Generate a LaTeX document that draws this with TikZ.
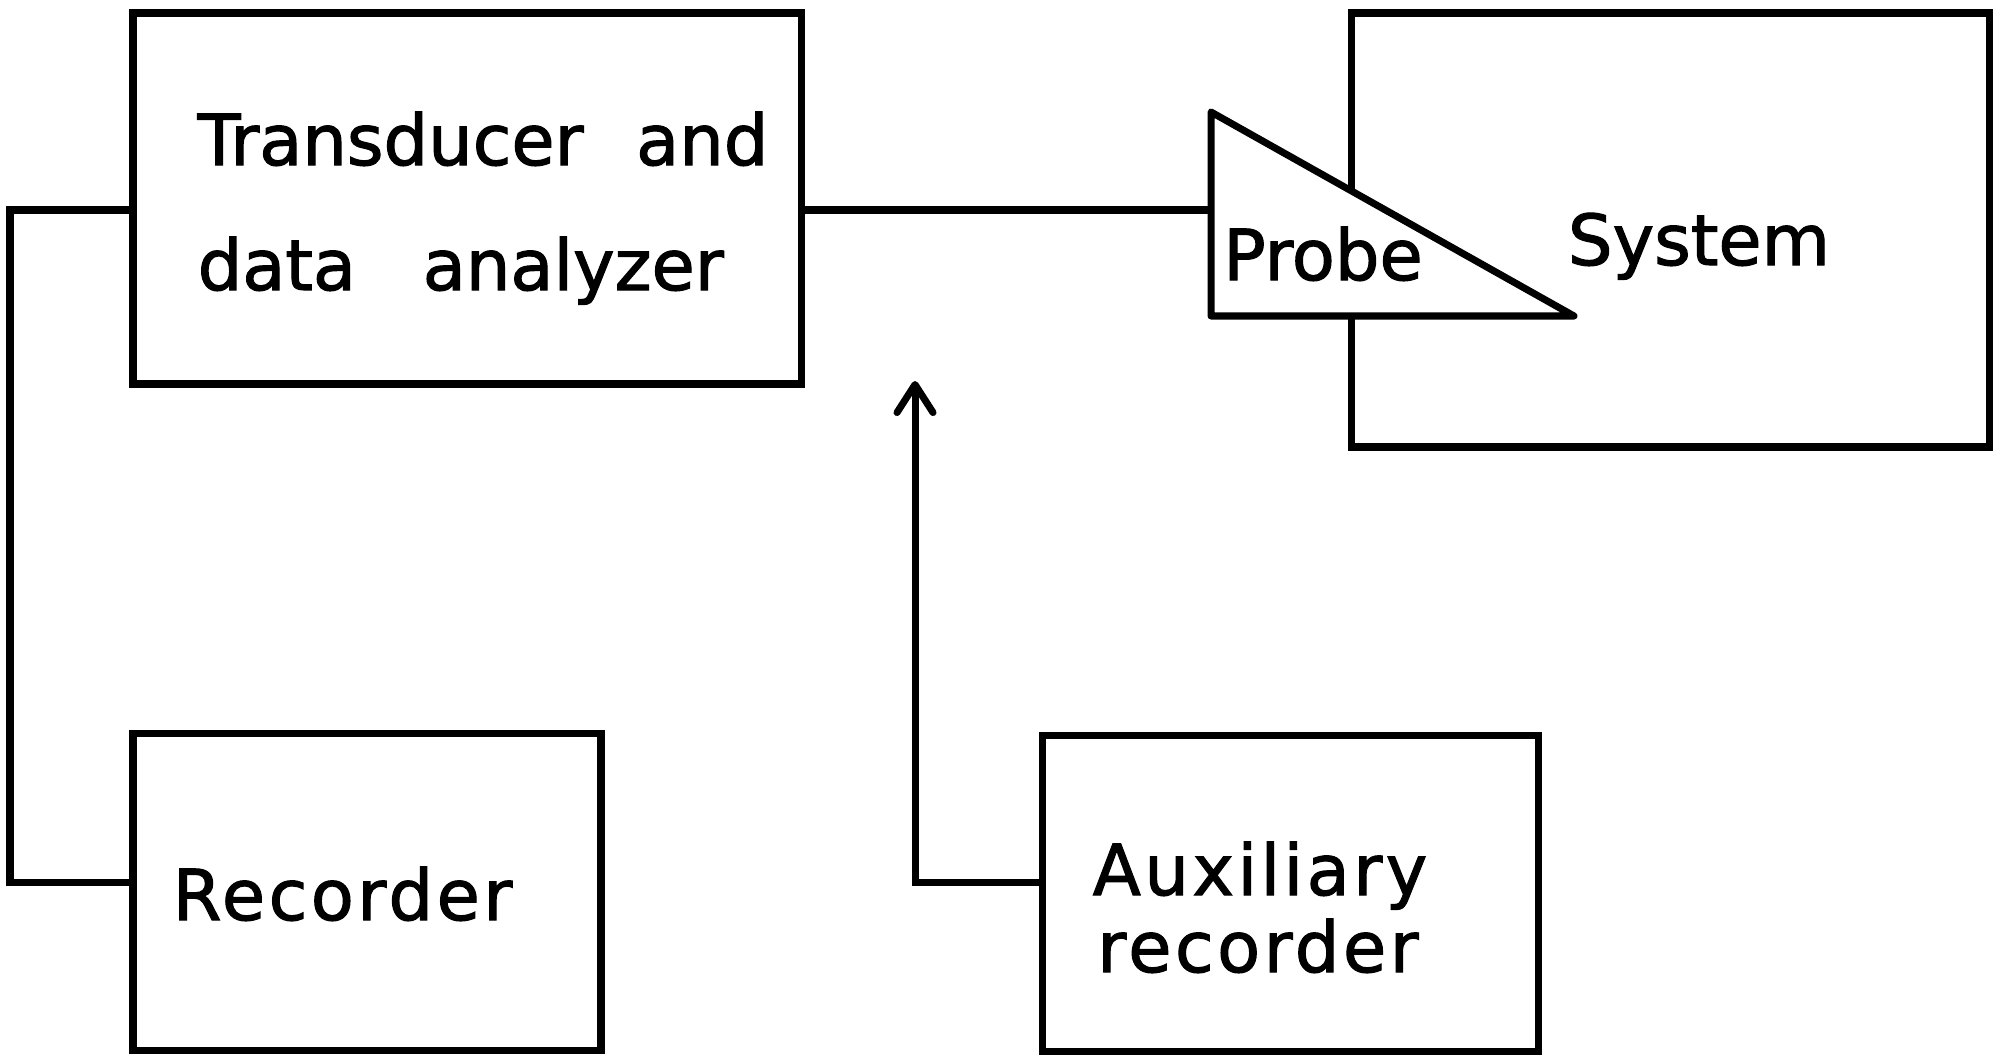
\documentclass[tikz,border=0pt]{standalone}
\usepackage{fontspec}
\setmainfont{DejaVu Sans}
\newfontfamily\lettering{DejaVu Sans}[BoldFont={DejaVu Sans}, BoldFeatures={FakeBold=1.6}]
\usetikzlibrary{calc, positioning}
\usetikzlibrary{arrows.meta}

\begin{document}
\begin{tikzpicture}[
    block/.style={draw, line width=2pt, inner sep=0pt},
    wire/.style={line width=2pt},
    txt/.style={font=\lettering\bfseries\fontsize{20}{24}\selectfont, inner sep=0pt},
    wide/.style={font=\lettering\bfseries\fontsize{20}{24}\selectfont\addfontfeatures{LetterSpace=5}}
  ]
  \useasboundingbox (0,0) rectangle (19.93,10.55);

  \coordinate (PT) at (12.11,9.43);
  \coordinate (PB) at (12.11,7.39);
  \coordinate (PC) at (15.74,7.39);
  \coordinate (PL) at (12.11,8.45);
  \coordinate (bend) at (0.10,1.73);
  \coordinate (tip) at (9.15,6.74);

  \node[block, minimum width=6.68cm, minimum height=3.71cm] (tda) at (4.67,8.565) {};
  \node[block, minimum width=4.68cm, minimum height=3.17cm] (rec) at (3.67,1.635) {};
  \node[block, minimum width=4.96cm, minimum height=3.16cm] (aux) at (12.90,1.62) {};
  \node[block, minimum width=6.38cm, minimum height=4.34cm] (sys) at (16.70,8.25) {};

  \node[txt, anchor=base west] (tdaA) at (1.97,8.90) {Transducer\hspace{0.75em}and};
  \node[txt, anchor=base west] (tdaB) at (1.97,7.65) {data\hspace{0.95em}analyzer};
  \node[txt, wide, anchor=base west] (rectxt) at (1.72,1.35) {Recorder};
  \node[txt, wide, anchor=base] (auxA) at (12.60,1.60) {Auxiliary};
  \node[txt, wide, anchor=base] (auxB) at (12.58,0.83) {recorder};
  \node[txt, anchor=base] (systxt) at (16.99,7.90) {System};

  % probe sits over the system box
  \draw[wire, fill=white, line join=round] (PT) -- (PB) -- (PC) -- cycle;
  \node[txt, anchor=base] (probe) at (13.23,7.75) {Probe};

  \draw[wire] (tda.east |- PL) -- (PL);
  \draw[wire] (tda.west |- PL) -| (bend) -- (rec.west |- bend);
  \draw[wire, -{Straight Barb[length=2.8mm, width=3.6mm, round]}] (aux.west |- bend) -| (tip);
\end{tikzpicture}
\end{document}
